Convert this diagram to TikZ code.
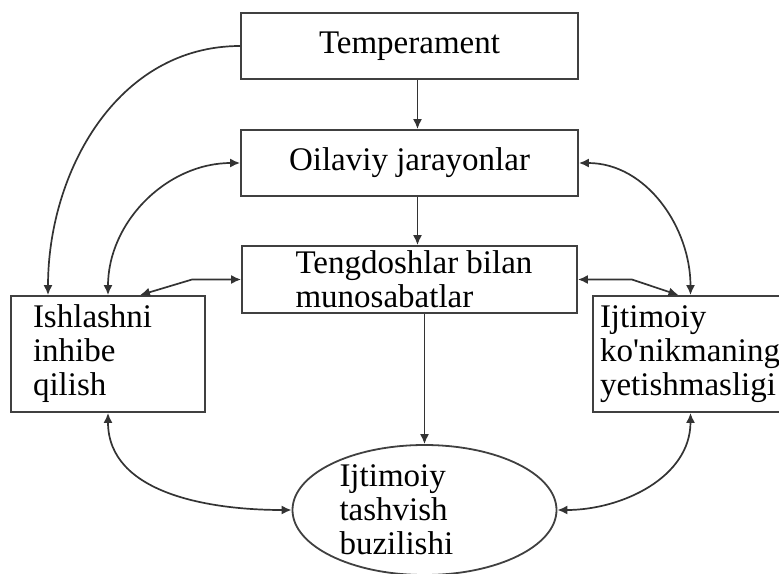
\documentclass[tikz,border=0pt]{standalone}
\usepackage{fontspec}
\setmainfont{Liberation Serif}
\usetikzlibrary{positioning, arrows.meta, shapes.geometric}

\begin{document}
\begin{tikzpicture}[x=1pt,y=1pt,
  >={Latex[length=10pt,width=9pt]},
  every node/.style={font=\fontsize{33}{34}\selectfont},
  box/.style={draw=black!75,line width=1.8pt,rectangle,inner sep=0pt},
  link/.style={draw=black!80,line width=1.7pt}]
\useasboundingbox (0,0) rectangle (779,-573);
\node[box,minimum width=337,minimum height=66](temp) at(409.5,-46){Temperament};
\node[box,minimum width=337,minimum height=66](fam) at(409.5,-163){Oilaviy jarayonlar};
\node[box,minimum width=335,minimum height=67,align=left](peer) at(409.5,-279.5){\hspace*{9pt}Tengdoshlar bilan\\\hspace*{9pt}munosabatlar};
\node[box,text width=150,align=left,inner xsep=22,minimum height=116](inh) at(108,-354){Ishlashni\\inhibe\\qilish};
\node[box,text width=185,align=left,inner xsep=7,minimum height=116](skill) at(692.5,-354){Ijtimoiy\\ko\textquotesingle nikmaning\\yetishmasligi};
\node[box,ellipse,text width=170,align=left,inner xsep=8,minimum width=264,minimum height=130](anx) at(424.5,-510){Ijtimoiy\\tashvish\\buzilishi};

\draw[link,->] ([xshift=8]temp.south) -- ([xshift=8]fam.north);
\draw[link,->] ([xshift=8]fam.south) -- ([xshift=8]peer.north);
\draw[link,->] (peer.south -| anx.north) -- (anx.north);
\draw[link,->] (temp.west) to[out=180,in=90] ([xshift=-60]inh.north);
\draw[link,<->] (fam.west) to[out=180,in=90] (inh.north);
\draw[link,<->] (peer.west) -- ++(-49,0) -- ([xshift=32]inh.north);
\draw[link,<->] (fam.east) to[out=0,in=90] ([xshift=-2]skill.north);
\draw[link,<->] (peer.east) -- ++(54,0) -- ([xshift=-14]skill.north);
\draw[link,<->] (inh.south) to[out=-90,in=180] (anx.west);
\draw[link,<->] ([xshift=-2]skill.south) to[out=-90,in=0] (anx.east);
\end{tikzpicture}
\end{document}
